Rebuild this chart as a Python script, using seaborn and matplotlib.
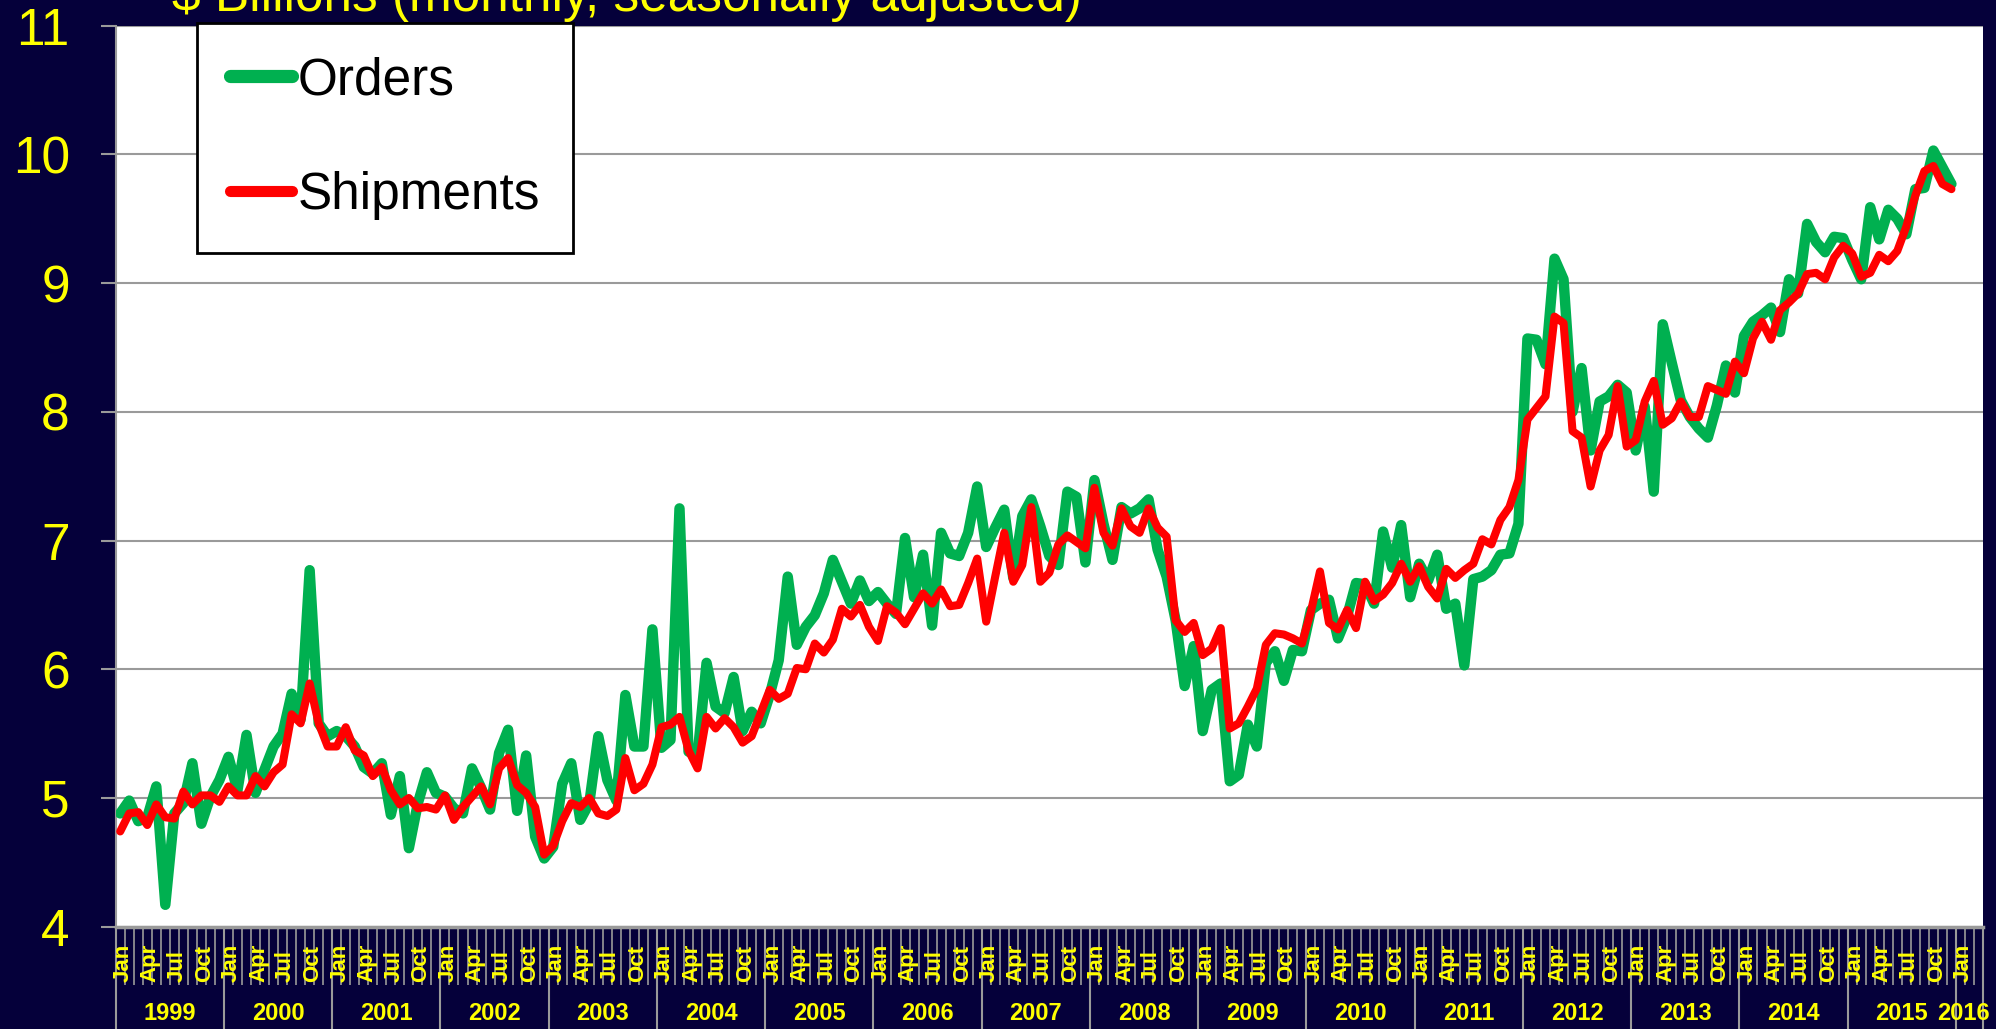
import numpy as np
import pandas as pd
import matplotlib
matplotlib.use("Agg")
import matplotlib.pyplot as plt
import seaborn as sns
from matplotlib.transforms import ScaledTranslation

# ---------------- data (monthly, Jan 1999 - Dec 2015) ----------------
orders = [
    4.88, 4.98, 4.82, 4.85, 5.09, 4.17, 4.88, 4.96, 5.27, 4.80, 5.01, 5.14,   # 1999
    5.32, 5.06, 5.49, 5.04, 5.22, 5.40, 5.50, 5.81, 5.61, 6.77, 5.58, 5.48,   # 2000
    5.52, 5.48, 5.40, 5.24, 5.19, 5.27, 4.87, 5.17, 4.61, 4.96, 5.20, 5.04,   # 2001
    5.01, 4.92, 4.88, 5.23, 5.08, 4.91, 5.35, 5.53, 4.90, 5.33, 4.70, 4.53,   # 2002
    4.62, 5.11, 5.27, 4.83, 4.96, 5.48, 5.14, 4.98, 5.80, 5.40, 5.40, 6.31,   # 2003
    5.39, 5.45, 7.25, 5.36, 5.33, 6.05, 5.71, 5.66, 5.94, 5.52, 5.67, 5.58,   # 2004
    5.80, 6.07, 6.72, 6.19, 6.33, 6.42, 6.59, 6.85, 6.68, 6.51, 6.69, 6.53,   # 2005
    6.60, 6.51, 6.43, 7.02, 6.56, 6.89, 6.34, 7.06, 6.90, 6.88, 7.06, 7.42,   # 2006
    6.95, 7.10, 7.24, 6.71, 7.19, 7.32, 7.11, 6.88, 6.81, 7.38, 7.34, 6.83,   # 2007
    7.47, 7.13, 6.85, 7.26, 7.21, 7.25, 7.32, 6.93, 6.72, 6.38, 5.87, 6.18,   # 2008
    5.52, 5.84, 5.89, 5.13, 5.18, 5.57, 5.40, 6.05, 6.14, 5.91, 6.15, 6.14,   # 2009
    6.46, 6.51, 6.54, 6.24, 6.41, 6.67, 6.66, 6.51, 7.07, 6.79, 7.12, 6.56,   # 2010
    6.82, 6.69, 6.89, 6.47, 6.51, 6.03, 6.70, 6.72, 6.77, 6.89, 6.90, 7.13,   # 2011
    8.57, 8.56, 8.37, 9.19, 9.03, 8.00, 8.34, 7.70, 8.08, 8.12, 8.21, 8.15,   # 2012
    7.70, 8.04, 7.38, 8.68, 8.38, 8.09, 7.96, 7.87, 7.80, 8.05, 8.36, 8.15,   # 2013
    8.59, 8.70, 8.75, 8.81, 8.62, 9.03, 8.92, 9.46, 9.32, 9.24, 9.36, 9.35,   # 2014
    9.18, 9.03, 9.59, 9.34, 9.57, 9.50, 9.38, 9.73, 9.74, 10.03, 9.90, 9.77,  # 2015
]
shipments = [
    4.74, 4.88, 4.89, 4.79, 4.95, 4.85, 4.84, 5.05, 4.95, 5.02, 5.02, 4.97,   # 1999
    5.09, 5.02, 5.02, 5.17, 5.09, 5.20, 5.26, 5.65, 5.58, 5.89, 5.58, 5.40,   # 2000
    5.40, 5.55, 5.37, 5.33, 5.17, 5.24, 5.06, 4.95, 5.00, 4.92, 4.93, 4.91,   # 2001
    5.02, 4.83, 4.93, 5.01, 5.09, 4.95, 5.23, 5.31, 5.10, 5.04, 4.93, 4.56,   # 2002
    4.63, 4.82, 4.96, 4.93, 5.00, 4.88, 4.86, 4.91, 5.31, 5.06, 5.11, 5.26,   # 2003
    5.55, 5.57, 5.63, 5.37, 5.23, 5.63, 5.54, 5.62, 5.55, 5.43, 5.48, 5.66,   # 2004
    5.84, 5.77, 5.81, 6.01, 6.00, 6.20, 6.13, 6.23, 6.47, 6.41, 6.50, 6.33,   # 2005
    6.22, 6.49, 6.44, 6.35, 6.47, 6.59, 6.51, 6.62, 6.49, 6.50, 6.67, 6.86,   # 2006
    6.37, 6.72, 7.06, 6.68, 6.81, 7.26, 6.68, 6.75, 6.97, 7.04, 6.99, 6.94,   # 2007
    7.41, 7.06, 6.96, 7.25, 7.11, 7.06, 7.25, 7.10, 7.03, 6.38, 6.29, 6.36,   # 2008
    6.11, 6.16, 6.32, 5.54, 5.58, 5.71, 5.85, 6.19, 6.28, 6.27, 6.24, 6.20,   # 2009
    6.45, 6.76, 6.36, 6.31, 6.46, 6.32, 6.68, 6.53, 6.58, 6.67, 6.82, 6.68,   # 2010
    6.80, 6.64, 6.55, 6.78, 6.71, 6.77, 6.82, 7.01, 6.97, 7.16, 7.26, 7.47,   # 2011
    7.94, 8.03, 8.12, 8.74, 8.69, 7.85, 7.80, 7.42, 7.70, 7.82, 8.20, 7.73,   # 2012
    7.78, 8.08, 8.24, 7.90, 7.95, 8.08, 7.96, 7.96, 8.20, 8.17, 8.14, 8.39,   # 2013
    8.30, 8.57, 8.70, 8.56, 8.79, 8.85, 8.92, 9.07, 9.08, 9.03, 9.20, 9.29,   # 2014
    9.23, 9.05, 9.08, 9.22, 9.17, 9.25, 9.44, 9.68, 9.87, 9.91, 9.77, 9.73,   # 2015
]
series_names = ["Orders", "Shipments"]
month_names = ["Jan", "Apr", "Jul", "Oct"]          # quarterly labels
year_labels = [str(y) for y in range(1999, 2017)]
n_categories = 207                                   # axis runs Jan 1999 .. Mar 2016
y_ticks = list(range(4, 12))
title = "$ Billions (monthly, seasonally adjusted)"

# ---------------- style ----------------
NAVY = "#05003A"
YELLOW = "#FFFF00"
GRAY = "#9A9A9A"
palette = {"Orders": "#00B050", "Shipments": "#FF0000"}
widths = {"Orders": 7.5, "Shipments": 5.8}

sns.set_style("white")
plt.rcParams["font.family"] = ["Liberation Sans", "DejaVu Sans"]

W, H = 1996, 1029
fig = plt.figure(figsize=(W / 100, H / 100), dpi=100, facecolor=NAVY)
left, right, top, bottom = 115.7, 1983.0, 25.7, 926.7
ax = fig.add_axes([left / W, (H - bottom) / H, (right - left) / W, (bottom - top) / H])
ax.set_facecolor("white")

months = np.arange(len(orders))
df = pd.DataFrame({
    "month": np.concatenate([months, months]),
    "value": orders + shipments,
    "series": [series_names[0]] * len(orders) + [series_names[1]] * len(shipments),
})

sns.lineplot(data=df, x="month", y="value", hue="series", size="series",
             palette=palette, sizes=widths, estimator=None, sort=False, ax=ax,
             solid_capstyle="round", solid_joinstyle="round", zorder=3)

ax.set_xlim(-0.5, n_categories - 0.5)
ax.set_ylim(4, 11)
ax.set_xlabel("")
ax.set_ylabel("")

# y axis
ax.set_yticks(y_ticks)
ax.set_yticklabels([str(v) for v in y_ticks])
ax.tick_params(axis="y", which="major", left=True, length=11, width=1.5, color=GRAY,
               pad=22, labelsize=37, labelcolor=YELLOW)
ax.yaxis.grid(True, color=GRAY, linewidth=1.5)
ax.xaxis.grid(False)
ax.set_axisbelow(True)

for s in ["top", "right"]:
    ax.spines[s].set_visible(False)
ax.spines["left"].set_color(GRAY)
ax.spines["left"].set_linewidth(1.5)
ax.spines["bottom"].set_color(GRAY)
ax.spines["bottom"].set_linewidth(2.5)

# x axis: year separators (major) and month ticks (minor)
year_bounds = list(np.arange(-0.5, n_categories, 12)) + [n_categories - 0.5]
ax.set_xticks(year_bounds)
ax.set_xticks(np.arange(-0.5, n_categories, 1), minor=True)
ax.tick_params(axis="x", which="major", bottom=True, length=75, width=1.5, color=GRAY,
               labelbottom=False)
ax.tick_params(axis="x", which="minor", bottom=True, length=42, width=1.2, color=GRAY,
               labelbottom=False)

xtf = ax.get_xaxis_transform()
mtf = xtf + ScaledTranslation(3 / 100, 0, fig.dpi_scale_trans)
for i in range(0, n_categories, 3):
    ax.text(i, -0.061, month_names[(i % 12) // 3], rotation=90, ha="center", va="bottom",
            transform=mtf, color=YELLOW, fontsize=16, fontweight="bold", clip_on=False)

for k, yl in enumerate(year_labels):
    start = 12 * k
    end = min(start + 12, n_categories)
    xc = (start + end - 1) / 2 if k < len(year_labels) - 1 else start + 0.3
    ax.text(xc, -0.1036, yl, ha="center", va="baseline", transform=xtf,
            color=YELLOW, fontsize=17, fontweight="bold", clip_on=False)

# title (partly cut off at top, as in the original slide)
fig.text(172 / W, 1 - 11 / H, title, color=YELLOW, fontsize=37, ha="left", va="baseline")

# legend
old = ax.get_legend()
handles = old.legend_handles
labels = [t.get_text() for t in old.get_texts()]
leg = ax.legend(handles, labels, loc="upper left", bbox_to_anchor=(197 / W, 1 - 23 / H),
                bbox_transform=fig.transFigure, fontsize=37, frameon=True, fancybox=False,
                edgecolor="black", facecolor="white", framealpha=1, borderpad=0.65,
                labelspacing=1.27, handlelength=1.2, handletextpad=0.1, borderaxespad=0,
                labelcolor="black")
leg.get_frame().set_linewidth(2)
for line, name in zip(leg.get_lines(), labels):
    line.set_linewidth(9.5 if name == "Orders" else 8.0)
    line.set_solid_capstyle("round")
leg.set_zorder(10)

fig.savefig("out.png", dpi=100, facecolor=NAVY)
